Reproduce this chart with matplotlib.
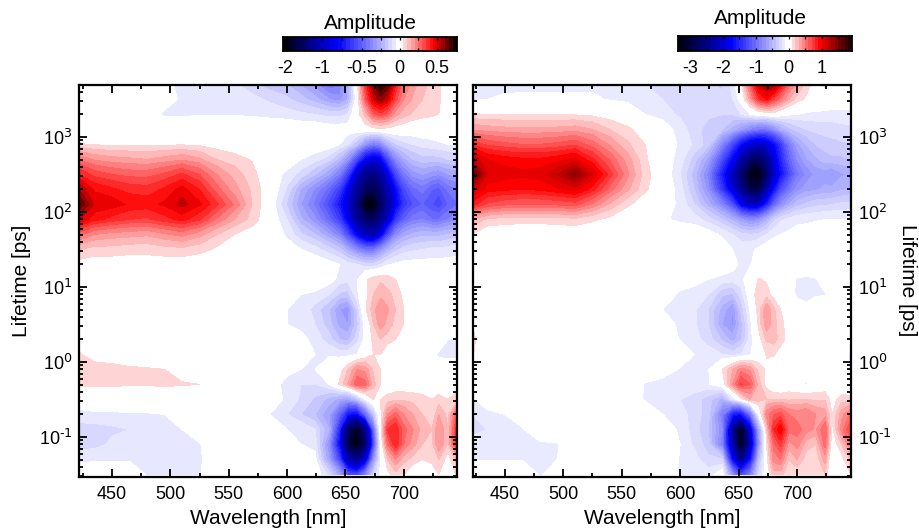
import numpy as np
import matplotlib
matplotlib.use("Agg")
import matplotlib.pyplot as plt
from matplotlib.colors import ListedColormap, BoundaryNorm

plt.rcParams['font.family'] = ['Liberation Sans', 'DejaVu Sans']
plt.rcParams['axes.unicode_minus'] = False

# columns of the maps, in nm
wavelength = [422, 435, 450, 465, 480, 495, 510, 525, 540, 555, 570, 585, 600, 612, 624, 636,
              645, 652, 660, 667, 674, 680, 686, 693, 700, 708, 716, 724, 730, 738, 747]
# rows of the maps, log10 of lifetime in ps, top to bottom
log_lifetime = [3.7, 3.5, 3.3, 3.1, 2.9, 2.7, 2.5, 2.3, 2.1, 1.9, 1.7, 1.5, 1.3, 1.1,
                0.9, 0.7, 0.5, 0.3, 0.1, -0.1, -0.3, -0.5, -0.7, -0.9, -1.1, -1.3, -1.5]

amp_left = [
    [0, 0, 0, 0, -.01, -.03, -.07, -.07, -.06, -.09, -.14, -.18, -.2, -.26, -.33, -.45, -.42, -.25, .03, .35, .6, .72, .65, .4, .25, .17, .12, .08, .06, 0, 0],
    [0, 0, 0, 0, -.01, -.02, -.06, -.07, -.06, -.06, -.08, -.11, -.14, -.18, -.23, -.3, -.33, -.25, 0, .28, .5, .58, .5, .32, .2, .14, .1, .07, .06, 0, 0],
    [0, 0, 0, 0, -.02, -.06, -.06, -.055, -.055, -.055, -.06, -.07, -.08, -.09, -.1, -.12, -.12, -.1, .02, .12, .28, .33, .28, .17, .12, .09, .07, .06, .05, 0, 0],
    [0, 0, 0, 0, 0, 0, 0, 0, 0, 0, 0, 0, 0, -.01, -.01, -.02, -.02, -.02, 0, .02, .03, .03, .03, .02, .01, 0, 0, 0, 0, 0, 0],
    [.055, .045, .04, .04, .04, .04, .045, .035, .02, .01, 0, 0, 0, 0, 0, -.01, -.05, -.1, -.2, -.35, -.42, -.38, -.25, -.16, -.12, -.1, -.08, -.07, -.06, -.05, -.05],
    [.24, .19, .17, .16, .15, .17, .19, .16, .1, .07, .045, 0, 0, -.05, -.08, -.13, -.22, -.35, -.6, -.82, -.9, -.85, -.6, -.38, -.27, -.2, -.17, -.17, -.17, -.15, -.14],
    [.4, .33, .3, .28, .28, .31, .36, .3, .2, .13, .07, 0, -.07, -.12, -.2, -.3, -.42, -.62, -1.0, -1.3, -1.35, -1.2, -.9, -.6, -.43, -.33, -.3, -.33, -.35, -.3, -.28],
    [.55, .44, .41, .38, .37, .41, .47, .4, .27, .17, .09, .01, -.11, -.26, -.36, -.48, -.62, -.85, -1.25, -1.55, -1.6, -1.45, -1.1, -.8, -.58, -.47, -.43, -.5, -.52, -.44, -.4],
    [.66, .49, .48, .44, .43, .46, .52, .46, .36, .24, .1, 0, -.16, -.3, -.42, -.58, -.75, -.95, -1.4, -2.0, -2.0, -1.6, -1.2, -.85, -.65, -.55, -.5, -.55, -.6, -.5, -.45],
    [.5, .42, .38, .35, .34, .38, .42, .36, .24, .15, .08, 0, -.1, -.24, -.34, -.48, -.62, -.85, -1.25, -1.5, -1.55, -1.3, -1.0, -.65, -.5, -.42, -.4, -.45, -.45, -.4, -.36],
    [.27, .2, .18, .17, .16, .19, .22, .17, .1, .05, .02, 0, -.06, -.14, -.2, -.3, -.4, -.58, -.85, -1.05, -1.1, -.9, -.6, -.38, -.28, -.24, -.22, -.22, -.22, -.2, -.18],
    [.1, .08, .08, .07, .07, .08, .085, .07, .04, .02, 0, 0, -.03, -.05, -.08, -.13, -.18, -.27, -.38, -.45, -.45, -.35, -.25, -.17, -.13, -.11, -.1, -.09, -.09, -.08, -.07],
    [.03, .02, .02, .02, .02, .02, .02, .01, 0, 0, 0, 0, 0, 0, -.01, -.03, -.05, -.08, -.1, -.13, -.13, -.1, -.06, -.04, -.03, -.03, -.03, -.03, -.03, -.03, -.03],
    [0, 0, 0, 0, 0, 0, 0, 0, 0, 0, 0, 0, 0, 0, 0, -.02, -.07, -.08, -.06, .04, .08, .09, .08, .05, 0, 0, 0, 0, 0, 0, 0],
    [0, 0, 0, 0, 0, 0, 0, 0, 0, 0, 0, 0, -.02, -.05, -.06, -.1, -.16, -.17, -.06, .03, .1, .13, .11, .09, .03, 0, 0, 0, 0, 0, 0],
    [0, 0, 0, 0, 0, 0, 0, 0, 0, 0, 0, 0, -.05, -.06, -.12, -.2, -.3, -.33, -.15, .04, .13, .2, .16, .1, .05, 0, 0, 0, 0, 0, 0],
    [0, 0, 0, 0, 0, 0, 0, 0, 0, 0, 0, 0, -.05, -.07, -.1, -.18, -.27, -.3, -.17, -.02, .1, .18, .13, .08, .05, 0, 0, 0, 0, 0, 0],
    [0, 0, 0, 0, 0, 0, 0, 0, 0, 0, 0, 0, 0, -.03, -.07, -.13, -.2, -.22, -.12, -.03, .07, .1, .08, .05, 0, 0, 0, 0, 0, -.05, -.06],
    [.06, 0, 0, 0, 0, 0, 0, 0, 0, 0, 0, 0, 0, 0, -.05, -.06, -.07, -.07, -.05, 0, .05, .05, 0, 0, 0, 0, 0, -.03, -.06, -.06, -.06],
    [.1, .09, .075, .06, .055, .05, .02, 0, 0, 0, 0, 0, -.03, -.05, -.05, 0, .02, .1, .2, .18, .09, .05, 0, 0, 0, 0, 0, 0, -.02, -.03, -.03],
    [.06, .06, .06, .055, .055, .06, .055, .05, 0, 0, 0, -.02, -.07, -.1, -.1, -.05, .06, .15, .3, .27, .12, .05, 0, 0, 0, 0, 0, 0, 0, 0, 0],
    [0, 0, 0, 0, 0, 0, 0, 0, 0, 0, 0, -.02, -.06, -.11, -.16, -.22, -.27, -.3, -.2, -.05, .05, .05, .07, .09, .09, .08, .07, .05, .07, .05, .1],
    [-.07, -.06, -.06, -.055, -.055, -.05, 0, 0, 0, 0, 0, -.05, -.1, -.15, -.2, -.3, -.5, -.75, -.8, -.5, -.2, .03, .2, .27, .2, .15, .1, .05, .15, .08, .35],
    [-.12, -.12, -.11, -.1, -.07, -.07, -.05, 0, 0, 0, 0, 0, -.05, -.06, -.1, -.25, -.7, -1.5, -1.9, -1.3, -.5, .02, .35, .4, .27, .2, .13, .1, .2, .1, .45],
    [-.12, -.12, -.09, -.07, -.1, -.09, -.06, -.055, 0, 0, 0, 0, 0, -.05, -.07, -.35, -.8, -1.7, -2.0, -1.5, -.6, -.03, .25, .4, .25, .17, .1, .08, .2, .09, .45],
    [-.07, -.06, -.06, -.06, -.06, -.06, -.06, -.06, 0, 0, 0, 0, 0, 0, -.03, -.3, -.6, -1.1, -1.3, -.95, -.35, -.06, .1, .2, .12, .08, .05, .06, .1, .02, .15],
    [0, 0, 0, 0, -.055, -.06, -.06, -.055, 0, 0, 0, 0, 0, 0, 0, -.12, -.3, -.55, -.6, -.4, -.15, -.03, .03, .08, .05, 0, 0, .03, .05, 0, .07],
]

amp_right = [
    [-.25, -.18, -.14, -.13, -.13, -.13, -.13, -.13, -.14, -.16, -.2, -.22, -.25, -.26, -.28, -.32, -.15, .05, .6, 1.1, 1.45, 1.3, .95, .55, .35, .15, .05, .12, .05, .05, .13],
    [-.12, -.1, -.08, -.08, -.08, -.08, -.08, -.08, -.11, -.13, -.16, -.2, -.23, -.23, -.26, -.28, -.2, -.05, .35, .75, .9, .7, .5, .3, .15, .08, .05, .05, 0, 0, .02],
    [.11, .1, .1, .1, .1, .1, .09, .07, .03, 0, -.1, -.15, -.22, -.25, -.27, -.3, -.3, -.2, -.1, -.03, 0, .03, -.03, -.08, -.1, -.12, -.13, -.14, -.14, -.14, -.14],
    [.38, .35, .33, .32, .32, .33, .35, .3, .2, .12, .05, -.03, -.15, -.25, -.35, -.4, -.55, -.7, -.85, -.95, -.95, -.8, -.6, -.45, -.35, -.3, -.27, -.25, -.25, -.23, -.22],
    [.78, .68, .63, .6, .6, .63, .68, .55, .38, .22, .1, -.02, -.12, -.22, -.35, -.85, -1.3, -1.7, -2.0, -2.1, -2.0, -1.75, -1.4, -.95, -.65, -.5, -.4, -.35, -.33, -.32, -.3],
    [1.2, 1.0, .95, .92, .92, .96, 1.03, .82, .58, .35, .12, -.02, -.15, -.35, -.65, -1.25, -1.8, -2.3, -2.7, -2.8, -2.5, -2.0, -1.55, -1.1, -.8, -.62, -.52, -.45, -.42, -.42, -.4],
    [1.7, 1.1, 1.05, 1.03, 1.05, 1.2, 1.42, 1.1, .75, .42, .15, 0, -.2, -.45, -.85, -1.6, -2.2, -2.7, -3.25, -3.35, -2.8, -2.1, -1.7, -1.3, -.95, -.78, -.68, -.65, -.72, -.62, -.58],
    [1.15, .95, .92, .9, .92, .98, 1.05, .85, .55, .32, .12, 0, -.15, -.4, -.75, -1.4, -2.0, -2.4, -2.95, -2.9, -2.3, -1.75, -1.25, -.95, -.75, -.65, -.62, -.58, -.58, -.52, -.48],
    [.85, .68, .62, .6, .6, .62, .65, .48, .28, .12, .03, -.05, -.12, -.3, -.55, -.85, -1.25, -1.85, -2.15, -2.1, -1.6, -1.1, -.8, -.6, -.45, -.38, -.33, -.32, -.3, -.28, -.27],
    [.3, .18, .15, .14, .14, .15, .17, .12, .07, .02, 0, -.08, -.13, -.15, -.25, -.4, -.55, -.7, -.8, -.75, -.55, -.35, -.22, -.17, -.13, -.12, -.11, -.1, -.1, -.1, -.1],
    [.1, .02, .02, .02, .02, .02, .02, .01, 0, 0, 0, 0, 0, -.02, -.05, -.12, -.2, -.27, -.3, -.27, -.2, -.13, -.1, -.08, -.06, -.06, -.05, -.05, -.05, -.05, -.05],
    [0, 0, 0, 0, 0, 0, 0, 0, 0, 0, 0, 0, 0, 0, -.02, -.04, -.1, -.13, -.12, -.08, -.03, -.02, -.02, -.02, -.02, -.02, -.02, -.02, -.02, -.02, -.02],
    [0, 0, 0, 0, 0, 0, 0, 0, 0, 0, 0, 0, 0, 0, 0, -.02, -.05, -.13, -.11, -.03, 0, 0, 0, 0, 0, 0, 0, 0, 0, 0, 0],
    [0, 0, 0, 0, 0, 0, 0, 0, 0, 0, 0, 0, -.02, -.05, -.1, -.13, -.15, -.13, -.02, .11, .08, .03, 0, -.06, -.11, -.12, -.11, -.02, 0, -.03, -.11],
    [0, 0, 0, 0, 0, 0, 0, 0, 0, 0, 0, -.03, -.12, -.15, -.2, -.38, -.42, -.25, -.02, .2, .15, .05, .03, -.05, -.12, -.13, -.12, -.11, -.02, -.02, -.12],
    [.03, 0, 0, 0, 0, 0, 0, 0, 0, 0, 0, -.1, -.13, -.18, -.3, -.55, -.7, -.38, -.08, .15, .38, .22, .1, 0, -.05, -.08, 0, 0, 0, 0, -.05],
    [.1, 0, 0, 0, 0, 0, 0, 0, 0, 0, 0, -.02, -.13, -.18, -.3, -.6, -.72, -.45, -.13, .12, .38, .25, .13, .05, 0, 0, 0, 0, 0, 0, 0],
    [.13, 0, 0, 0, 0, 0, 0, 0, 0, 0, 0, 0, -.11, -.16, -.25, -.42, -.55, -.42, -.15, .05, .22, .25, .15, .05, 0, 0, 0, 0, 0, 0, 0],
    [.11, 0, 0, 0, 0, 0, 0, 0, 0, 0, 0, 0, -.02, -.1, -.15, -.2, -.25, -.2, -.12, 0, .11, .11, .05, 0, 0, 0, 0, 0, 0, -.05, -.13],
    [0, 0, 0, 0, 0, 0, 0, 0, 0, 0, 0, -.05, -.11, -.12, -.11, .1, .3, .45, .38, .17, .08, .02, 0, 0, 0, 0, 0, 0, 0, -.03, -.13],
    [0, 0, 0, 0, 0, 0, 0, 0, 0, -.02, -.11, -.13, -.13, -.12, -.11, 0, .4, .72, .6, .25, .05, -.05, -.08, 0, -.05, -.12, -.02, 0, 0, -.03, -.1],
    [-.12, -.02, 0, 0, 0, 0, 0, 0, 0, -.03, -.11, -.13, -.2, -.25, -.35, -.55, -.2, .05, .3, .25, .2, .2, .2, .18, .2, .2, .18, .18, .05, .15, .15],
    [-.2, -.13, -.1, -.02, 0, 0, 0, 0, 0, 0, -.03, -.1, -.15, -.25, -.35, -.9, -1.6, -1.7, -1.0, -.1, .45, .6, .65, .5, .45, .5, .4, .35, .1, .35, .55],
    [-.25, -.2, -.12, -.11, 0, 0, 0, 0, 0, 0, 0, -.03, -.12, -.25, -.4, -.8, -2.5, -3.3, -2.0, -.7, .2, .8, 1.0, .55, .55, .45, .38, .6, .05, .45, .75],
    [-.15, -.15, -.12, -.12, -.12, -.11, 0, 0, 0, 0, 0, 0, -.1, -.22, -.35, -.9, -2.3, -3.3, -2.2, -.8, .1, .55, .75, .35, .45, .25, .2, .55, 0, .2, .55],
    [-.11, -.11, -.11, -.11, -.12, -.1, 0, 0, 0, 0, 0, 0, -.11, -.15, -.28, -.3, -1.8, -2.6, -1.7, -.5, .05, .45, .5, .2, .3, .15, .12, .35, -.1, .05, .25],
    [0, 0, 0, 0, -.11, -.05, 0, 0, 0, 0, 0, 0, -.11, -.11, -.15, -.02, -.8, -1.3, -.9, -.3, 0, .25, .25, .1, .12, .1, .1, .2, -.1, -.05, .12],
]

# contour bands, the white one sits around zero
levels_left = np.r_[-2.05, np.arange(-1.9, -0.95, 0.1), np.arange(-0.95, -0.04, 0.05),
                    np.arange(0.05, 0.76, 0.05)]
levels_right = np.r_[np.arange(-3.4, -0.05, 0.1), np.arange(0.1, 2.01, 0.1)]

anchor_left = [-2.05, -1.0, -0.8, 0, 0.45, 0.75]
anchor_right = [-3.4, -2.1, -1.75, 0, 0.95, 2.0]
anchor_r = [0, 0, 0, 1, 1, 0]
anchor_g = [0, 0, 0, 1, 0, 0]
anchor_b = [0, 0.75, 1, 1, 0, 0]

colorbar_ticks_left = [-2, -1, -0.5, 0, 0.5]
colorbar_minor_left = [-1.5, -0.75, -0.25, 0.25]
colorbar_ticks_right = [-3, -2, -1, 0, 1]
colorbar_minor_right = [-2.5, -1.5, -0.5, 0.5, 1.5]

y_ticks = [0.1, 1, 10, 100, 1000]
y_exponents = ['-1', '0', '1', '2', '3']


def band_colors(levels, anchor):
    mids = (levels[:-1] + levels[1:]) / 2
    return np.c_[np.interp(mids, anchor, anchor_r),
                 np.interp(mids, anchor, anchor_g),
                 np.interp(mids, anchor, anchor_b)]


def box(x0, y0, x1, y1):
    # pixel box of the reference -> figure fractions
    return [x0 / 919, 1 - y1 / 529, (x1 - x0) / 919, (y1 - y0) / 529]


def draw_map(ax, amp, levels, anchor, xlim):
    tau = 10.0 ** np.array(log_lifetime)
    ax.contourf(wavelength, tau, np.array(amp), levels=levels,
                colors=band_colors(levels, anchor), extend='neither')
    ax.set_yscale('log')
    ax.set_xlim(xlim)
    ax.set_ylim(0.0295, 5000)
    ax.set_xticks([450, 500, 550, 600, 650, 700])
    ax.set_xticks([425, 475, 525, 575, 625, 675, 725], minor=True)
    ax.set_yticks(y_ticks)
    # \text keeps the hyphen of the exponent, plain mathtext makes it a long minus
    ax.set_yticklabels(['10$^{\\text{%s}}$' % e for e in y_exponents])
    ax.yaxis.set_minor_locator(matplotlib.ticker.LogLocator(base=10, subs=np.arange(2, 10), numticks=20))
    ax.yaxis.set_minor_formatter(matplotlib.ticker.NullFormatter())
    ax.tick_params(which='both', direction='in', top=True, right=True, width=1.3, labelsize=13)
    ax.tick_params(axis='x', which='both', pad=7)
    ax.tick_params(axis='y', which='both', pad=5)
    ax.tick_params(which='major', length=6)
    ax.tick_params(which='minor', length=3)
    for s in ax.spines.values():
        s.set_linewidth(1.6)
    ax.set_xlabel('Wavelength [nm]', fontsize=15, labelpad=4)


def draw_bar(cax, levels, anchor, xlim, ticks, minor):
    mids = (levels[:-1] + levels[1:]) / 2
    cmap = ListedColormap(band_colors(levels, anchor))
    norm = BoundaryNorm(levels, cmap.N)
    cax.pcolormesh(levels, [0, 1], mids[np.newaxis, :], cmap=cmap, norm=norm)
    cax.set_xlim(xlim)
    cax.set_yticks([])
    cax.set_xticks(ticks)
    cax.set_xticklabels([str(t) for t in ticks])
    cax.set_xticks(minor, minor=True)
    cax.tick_params(which='both', direction='in', top=True, width=0.9, labelsize=13, pad=6.5, length=2)
    for s in cax.spines.values():
        s.set_linewidth(1.3)


fig = plt.figure(figsize=(9.19, 5.29), dpi=100)

ax1 = fig.add_axes(box(79.3, 84.5, 457.5, 476.7))
draw_map(ax1, amp_left, levels_left, anchor_left, (422, 746))
ax1.set_ylabel('Lifetime [ps]', fontsize=15, va='center')
ax1.yaxis.set_label_coords(-0.154, 0.5)

ax2 = fig.add_axes(box(472.8, 84.5, 850.8, 476.7))
draw_map(ax2, amp_right, levels_right, anchor_right, (422.6, 746))
ax2.yaxis.tick_right()
ax2.tick_params(which='both', left=True)
ax2.yaxis.set_label_position('right')
ax2.set_ylabel('Lifetime [ps]', fontsize=15, rotation=270, va='center')
ax2.yaxis.set_label_coords(1.151, 0.5)

# the left bar has an uneven scale: the ticks are about equally spaced
bar_vals = [-2.05, -2, -1, -0.5, 0, 0.5, 0.75]
bar_px = [283.3, 285, 322, 362, 399.5, 437, 456.7]
cax1 = fig.add_axes(box(283.3, 37, 456.7, 51))
cax1.set_xscale('function', functions=(lambda v: np.interp(v, bar_vals, bar_px),
                                       lambda p: np.interp(p, bar_px, bar_vals)))
draw_bar(cax1, levels_left, anchor_left, (-2.05, 0.75), colorbar_ticks_left, colorbar_minor_left)
cax1.set_title('Amplitude', fontsize=15, pad=6)

cax2 = fig.add_axes(box(678.3, 35.5, 851.7, 50.5))
draw_bar(cax2, levels_right, anchor_right, (-3.355, 1.915), colorbar_ticks_right, colorbar_minor_right)
cax2.set_title('Amplitude', fontsize=15, pad=8, x=0.471)

fig.savefig('out.png', dpi=100)
